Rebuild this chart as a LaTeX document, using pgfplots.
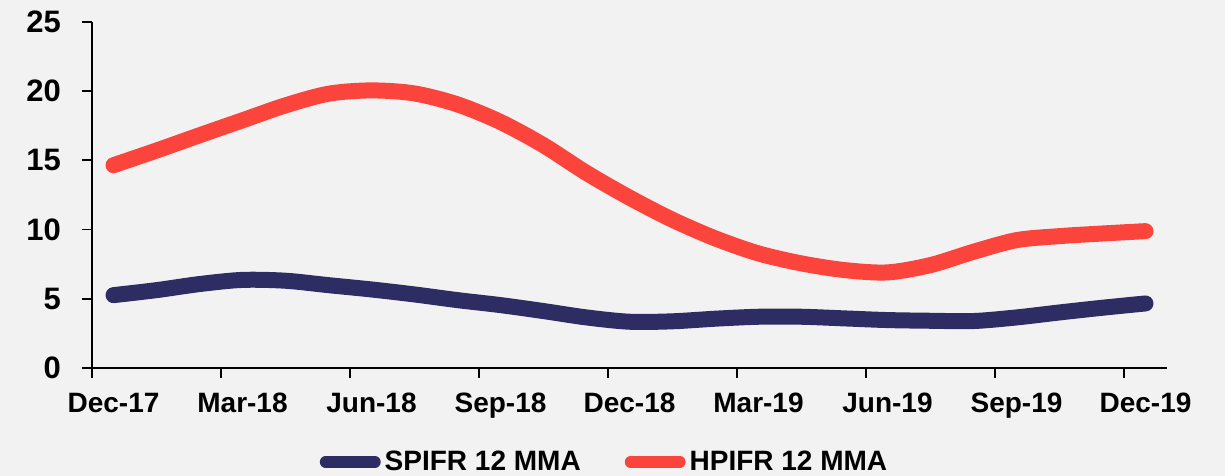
\documentclass[border=0pt]{standalone}
\usepackage{pgfplots}
\pgfplotsset{compat=1.18}
\usepackage{fontspec}
\setmainfont{Liberation Sans}
\definecolor{bg}{HTML}{F2F2F2}
\definecolor{sred}{HTML}{FB443B}
\definecolor{snavy}{HTML}{2D2C63}
\pgfplotstableread{
x spifr hpifr
0 5.26 14.64
1 5.62 15.70
2 6.06 16.80
3 6.36 17.88
4 6.30 18.96
5 5.98 19.80
6 5.67 20.04
7 5.31 19.82
8 4.90 19.03
9 4.54 17.76
10 4.11 16.08
11 3.65 14.08
12 3.34 12.30
13 3.37 10.70
14 3.56 9.35
15 3.70 8.27
16 3.70 7.55
17 3.58 7.07
18 3.46 6.90
19 3.41 7.43
20 3.39 8.39
21 3.65 9.23
22 4.01 9.52
23 4.35 9.71
24 4.66 9.88
}\datatable
\begin{document}
\begin{tikzpicture}
\fill[bg] (-46pt,-54pt) rectangle (566.5pt,184pt);
\begin{axis}[
  at={(0,0)}, anchor=south west,
  scale only axis,
  width=537.5pt, height=173.15pt,
  xmin=-0.5, xmax=24.5,
  ymin=0, ymax=25,
  axis x line=bottom, axis y line=left,
  axis line style={-, line width=1pt, black},
  tick style={line width=0.9pt, black},
  tick align=outside,
  major tick length=5pt,
  xtick={-0.5,2.5,5.5,8.5,11.5,14.5,17.5,20.5,23.5},
  xticklabels={Dec-17,Mar-18,Jun-18,Sep-18,Dec-18,Mar-19,Jun-19,Sep-19,Dec-19},
  xticklabel style={xshift=10.75pt, yshift=-4pt, font=\fontsize{14}{16}\selectfont\bfseries},
  ytick={0,5,10,15,20,25},
  yticklabel style={xshift=-7pt, font=\fontsize{15.5}{18}\selectfont\bfseries},
  /pgf/number format/assume math mode=true,
  clip=false,
  legend columns=2,
  legend style={draw=none, fill=none, at={(0.4777,-0.2714)}, anchor=center,
    font=\fontsize{14}{16}\selectfont\bfseries,
    /tikz/every even column/.append style={column sep=20pt}},
  legend image code/.code={\draw[#1, line width=5.75pt, line cap=round] (2.9pt,0pt) -- (27.6pt,0pt);},
]
\addplot[snavy, line width=8pt, line cap=round, smooth, tension=0.5] table[x=x, y=spifr] {\datatable};
\addlegendentry{SPIFR 12 MMA}
\addplot[sred, line width=8pt, line cap=round, smooth, tension=0.5] table[x=x, y=hpifr] {\datatable};
\addlegendentry{HPIFR 12 MMA}
\end{axis}
\pgfresetboundingbox
\path (-46pt,-54pt) rectangle (566.5pt,184pt);
\end{tikzpicture}
\end{document}
